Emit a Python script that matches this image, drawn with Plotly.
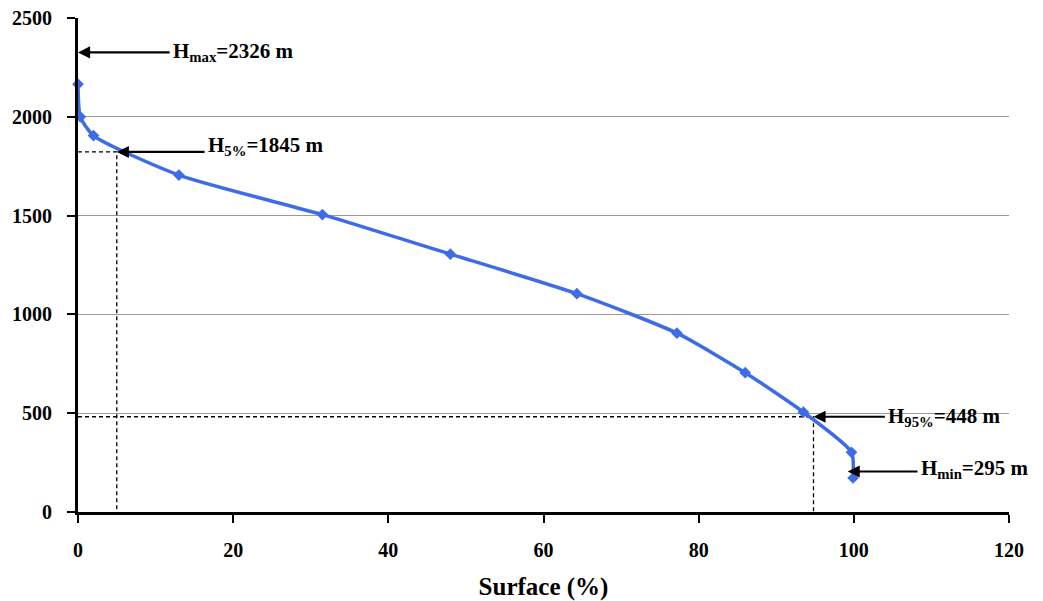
import plotly.graph_objects as go

# Hypsometric curve data
surface_pct = [0, 0.3, 2, 13, 31.5, 48, 64.3, 77.2, 86, 93.5, 99.7, 99.9]
altitude_m = [2165, 2000, 1905, 1705, 1505, 1305, 1105, 905, 705, 505, 302, 172]

x_ticks = [0, 20, 40, 60, 80, 100, 120]
y_ticks = [0, 500, 1000, 1500, 2000, 2500]

# Reference levels (annotation anchors)
h5_x, h5_y = 5, 1822
h95_x, h95_y = 94.8, 482
hmax_y = 2326
hmin_x, hmin_y = 99.2, 205

blue = "#3d6ce6"
font_fam = "Liberation Serif"

fig = go.Figure()
# dashed guide lines
for xs, ys in [([0, h5_x, h5_x], [h5_y, h5_y, 0]), ([0, h95_x, h95_x], [h95_y, h95_y, 0])]:
    fig.add_trace(go.Scatter(x=xs, y=ys, mode="lines",
                             line=dict(color="black", width=1.3, dash="4px,3px"),
                             showlegend=False, hoverinfo="skip"))

fig.add_trace(go.Scatter(
    x=surface_pct, y=altitude_m, mode="lines+markers",
    line=dict(color=blue, width=3.5, shape="spline", smoothing=0.6),
    marker=dict(symbol="diamond", size=9, color=blue),
    showlegend=False, cliponaxis=False,
))

ann_font = dict(family=font_fam, size=21, color="black", weight="bold")
annots = [
    (0, hmax_y, 12, "H<sub>max</sub>=2326 m", 0),
    (h5_x, h5_y, 11.5, "H<sub>5%</sub>=1845 m", 6),
    (h95_x, h95_y, 9.4, "H<sub>95%</sub>=448 m", 0),
    (hmin_x, hmin_y, 9.2, "H<sub>min</sub>=295 m", 2),
]
for ax_, ay_, dx, txt, ys in annots:
    # arrow
    fig.add_annotation(x=ax_, y=ay_, ax=ax_ + dx, ay=ay_, axref="x", ayref="y",
                       xref="x", yref="y", text="", showarrow=True,
                       arrowhead=2, arrowsize=1.1, arrowwidth=2.2, arrowcolor="black")
    # text
    fig.add_annotation(x=ax_ + dx, y=ay_, xref="x", yref="y", text=txt,
                       showarrow=False, xanchor="left", yanchor="middle",
                       font=ann_font, xshift=0, yshift=ys)

tick_font = dict(family=font_fam, size=20, color="black", weight="bold")

fig.update_layout(
    width=1043, height=601,
    margin=dict(l=78, r=34, t=18, b=89),
    paper_bgcolor="white", plot_bgcolor="white",
    font=dict(family=font_fam, size=20, color="black", weight="bold"),
)
fig.update_xaxes(
    range=[0, 120], tickvals=x_ticks, ticktext=[str(v) for v in x_ticks],
    tickfont=tick_font, automargin=False,
    showgrid=False, zeroline=False, showline=True, linecolor="black", linewidth=3,
    ticks="outside", ticklen=8, tickwidth=2, tickcolor="black",
    ticklabelstandoff=10,
    title=dict(text="Surface (%)", font=dict(family=font_fam, size=25, color="black", weight="bold"), standoff=19),
)
fig.update_yaxes(
    range=[0, 2500], tickvals=y_ticks, ticktext=[str(v) for v in y_ticks],
    tickfont=tick_font, automargin=False,
    showgrid=True, gridcolor="#9a9a9a", gridwidth=1, zeroline=False,
    showline=True, linecolor="black", linewidth=3,
    ticks="outside", ticklen=8, tickwidth=2, tickcolor="black",
    ticklabelstandoff=11,
)

fig.write_html("out.html")
